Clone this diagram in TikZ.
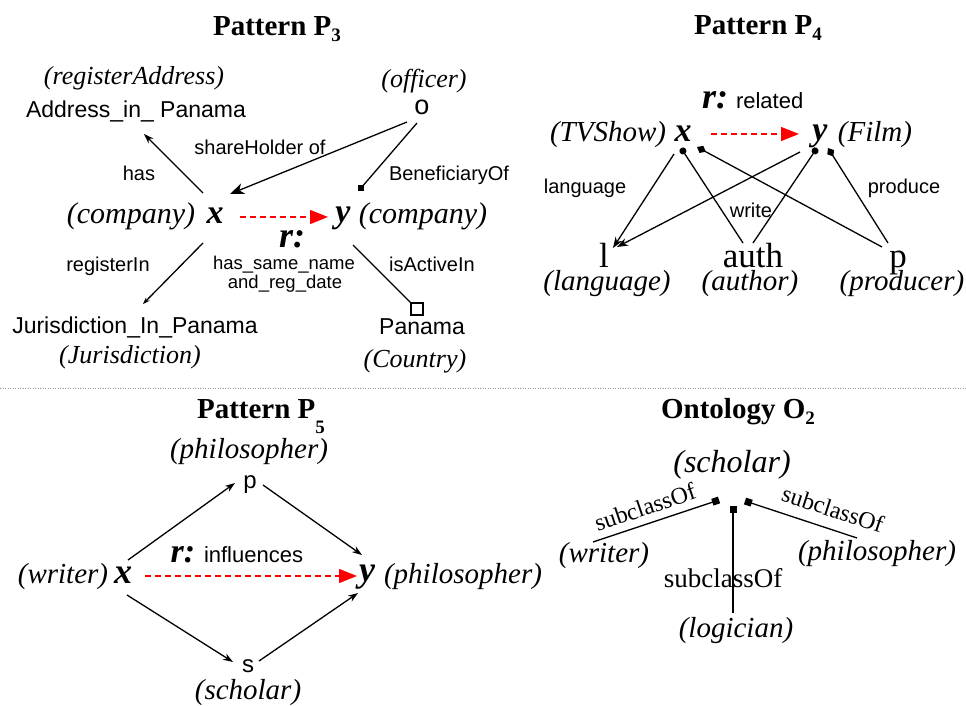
\documentclass[tikz,border=0pt]{standalone}
\usepackage{fontspec}
\setmainfont{Liberation Serif}
\setsansfont{Liberation Sans}
\usetikzlibrary{arrows.meta}
\tikzset{
  lbl/.style={inner sep=0pt, outer sep=0pt, anchor=base},
  ttl/.style={lbl, font=\fontsize{29}{30}\selectfont\bfseries},
  itl/.style={lbl, font=\fontsize{#1}{#1}\selectfont\itshape},
  rml/.style={lbl, font=\fontsize{#1}{#1}\selectfont},
  sfl/.style={lbl, font=\sffamily\fontsize{#1}{#1}\selectfont},
  var/.style={lbl, font=\fontsize{#1}{#1}\selectfont\bfseries\itshape},
  edge/.style={line width=1.3pt},
  rel/.style={red, line width=1.4pt, dash pattern=on 6pt off 4pt, -{Triangle[length=18pt,width=14pt]}},
  arr/.style={edge, -{Stealth[length=11pt,width=8pt]}},
  sarr/.style={edge, -{Stealth[length=10pt,width=7pt]}},
  fsq/.style={fill=black, inner sep=0pt, minimum size=6pt, draw=none},
  osq/.style={draw=black, fill=white, line width=1.2pt, inner sep=0pt, minimum size=12pt},
}
\newcommand{\subsc}[2]{\raisebox{#1}{\fontsize{19}{19}\selectfont #2}}
\begin{document}
\begin{tikzpicture}[x=1pt,y=-1pt]
\useasboundingbox (0,0) rectangle (966,706);
\fill[white] (0,0) rectangle (966,706);

% ---------------- Pattern P3 ----------------
\node[ttl] (t3) at (277,36) {Pattern P\subsc{-6pt}{3}};
\node[itl=26] (regaddr) at (134,85) {(registerAddress)};
\node[sfl=23] (addr) at (136,118) {Address\_in\_ Panama};
\node[itl=26] (officer) at (424,88) {(officer)};
\node[sfl=27] (o) at (422,114) {o};
\node[itl=30] (compx) at (131,223) {(company)};
\node[var=34] (x3) at (215,223) {x};
\node[var=34] (y3) at (343,222) {y};
\node[itl=30] (compy) at (423,223) {(company)};
\node[var=36] (r3) at (292,247) {r:};
\node[sfl=18.5] (hsn) at (284,269) {has\_same\_name};
\node[sfl=18.5] (ard) at (285,288) {and\_reg\_date};
\node[sfl=20] (lhas) at (139,180) {has};
\node[sfl=20] (lsh) at (260,154) {shareHolder of};
\node[sfl=20, anchor=base west] (lben) at (389,180) {BeneficiaryOf};
\node[sfl=20] (lreg) at (108,271) {registerIn};
\node[sfl=20] (lact) at (432,271) {isActiveIn};
\node[sfl=23] (jur) at (135,333) {Jurisdiction\_In\_Panama};
\node[itl=26] (jurt) at (130,363) {(Jurisdiction)};
\node[sfl=23] (pan) at (422,334) {Panama};
\node[itl=26] (country) at (415,367) {(Country)};

\coordinate (a1) at (203,193); \coordinate (a2) at (144,134);
\coordinate (b1) at (407,122); \coordinate (b2) at (230,194);
\coordinate (c1) at (417,123);
\node[fsq] (bsq) at (361,188) {};
\coordinate (d1) at (203,243); \coordinate (d2) at (143,304);
\coordinate (e1) at (353,245);
\node[osq] (asq) at (417,309) {};
\coordinate (f1) at (240,217); \coordinate (f2) at (328,217);
\draw[sarr] (a1) -- (a2);
\draw[edge, -{Stealth[length=14pt,width=11pt,inset=4pt]}] (b1) -- (b2);
\draw[edge] (c1) -- (bsq.center);
\draw[edge, -{Stealth[length=7pt,width=5pt]}] (d1) -- (d2);
\draw[edge] (e1) -- (asq.north west);
\draw[rel] (f1) -- (f2);

% ---------------- Pattern P4 ----------------
\node[ttl] (t4) at (758,35) {Pattern P\subsc{-6pt}{4}};
\node[var=36] (r4) at (715,109) {r:};
\node[sfl=22, anchor=base west] (related) at (736,109) {related};
\node[itl=29] (tvshow) at (608,142) {(TVShow)};
\node[var=34] (x4) at (683,142) {x};
\node[var=34] (y4) at (820,141) {y};
\node[itl=29] (film) at (875,142) {(Film)};
\node[rml=35] (l4) at (604,267) {l};
\node[rml=35] (auth) at (753,267) {auth};
\node[rml=35] (p4) at (898,267) {p};
\node[itl=29] (langt) at (607,290) {(language)};
\node[itl=29] (autht) at (750,290) {(author)};
\node[itl=29] (prodt) at (902,290) {(producer)};
\node[sfl=20] (llang) at (585,193) {language};
\node[sfl=20] (lwrite) at (751,217) {write};
\node[sfl=20] (lprod) at (904,193) {produce};

\coordinate (g1) at (674,154); \coordinate (g2) at (613,248);
\coordinate (h1) at (800,152); \coordinate (h2) at (617,247);
\coordinate (i1) at (743,243); \coordinate (i2) at (681,148);
\coordinate (j1) at (753,243); \coordinate (j2) at (817,148);
\coordinate (k1) at (882,247); \coordinate (k2) at (697,147);
\coordinate (m1) at (888,243); \coordinate (m2) at (828,148);
\coordinate (n1) at (711,134); \coordinate (n2) at (799,134);
\draw[arr] (g1) -- (g2);
\draw[arr] (h1) -- (h2);
\draw[edge, -{Circle[length=7pt]}] (i1) -- (i2);
\draw[edge, -{Circle[length=7pt]}] (j1) -- (j2);
\draw[edge, -{Diamond[length=10pt,width=8pt]}] (k1) -- (k2);
\draw[edge, -{Diamond[length=10pt,width=8pt]}] (m1) -- (m2);
\draw[rel] (n1) -- (n2);

% ---------------- separator ----------------
\coordinate (s1) at (0,388); \coordinate (s2) at (966,388);
\draw[gray!80, line width=0.8pt, dash pattern=on 1pt off 1.5pt] (s1) -- (s2);

% ---------------- Pattern P5 ----------------
\node[ttl] (t5) at (261,418) {Pattern P\subsc{-15pt}{5}};
\node[itl=29] (philt) at (249,458) {(philosopher)};
\node[sfl=24] (p5) at (250,488) {p};
\node[itl=29] (writer) at (63,583) {(writer)};
\node[var=36] (x5) at (123,583) {x};
\node[var=36] (y5) at (367,581) {y};
\node[itl=29] (philr) at (463,583) {(philosopher)};
\node[var=34] (r5) at (183,562) {r:};
\node[sfl=22, anchor=base west] (infl) at (204,562) {influences};
\node[sfl=24] (s5) at (248,672) {s};
\node[itl=29] (scholt) at (248,699) {(scholar)};

\coordinate (q1) at (128,560); \coordinate (q2) at (235,483);
\coordinate (u1) at (263,485); \coordinate (u2) at (362,555);
\coordinate (v1) at (127,595); \coordinate (v2) at (233,662);
\coordinate (w1) at (259,661); \coordinate (w2) at (358,593);
\coordinate (z1) at (145,576); \coordinate (z2) at (357,576);
\draw[sarr] (q1) -- (q2);
\draw[sarr] (u1) -- (u2);
\draw[sarr] (v1) -- (v2);
\draw[sarr] (w1) -- (w2);
\draw[rel] (z1) -- (z2);

% ---------------- Ontology O2 ----------------
\node[ttl] (to2) at (738,418) {Ontology O\subsc{-6pt}{2}};
\node[itl=32] (schol) at (732,472) {(scholar)};
\node[itl=29] (writ2) at (604,562) {(writer)};
\node[itl=29] (phil2) at (877,560) {(philosopher)};
\node[itl=29] (logi) at (736,637) {(logician)};
\node[rml=24, anchor=center, rotate=18.7] (sc1) at (645,507) {subclassOf};
\node[rml=24, anchor=center, rotate=-18] (sc2) at (833,509) {subclassOf};
\node[rml=27] (sc3) at (723,587) {subclassOf};

\coordinate (o1) at (593,542); \coordinate (o2) at (719,500);
\coordinate (o3) at (857,538); \coordinate (o4) at (745,501);
\coordinate (o5) at (733,613); \coordinate (o6) at (733,506);
\draw[edge, -{Square[length=7pt]}] (o1) -- (o2);
\draw[edge, -{Square[length=7pt]}] (o3) -- (o4);
\draw[edge, -{Square[length=7pt]}] (o5) -- (o6);
\end{tikzpicture}
\end{document}
